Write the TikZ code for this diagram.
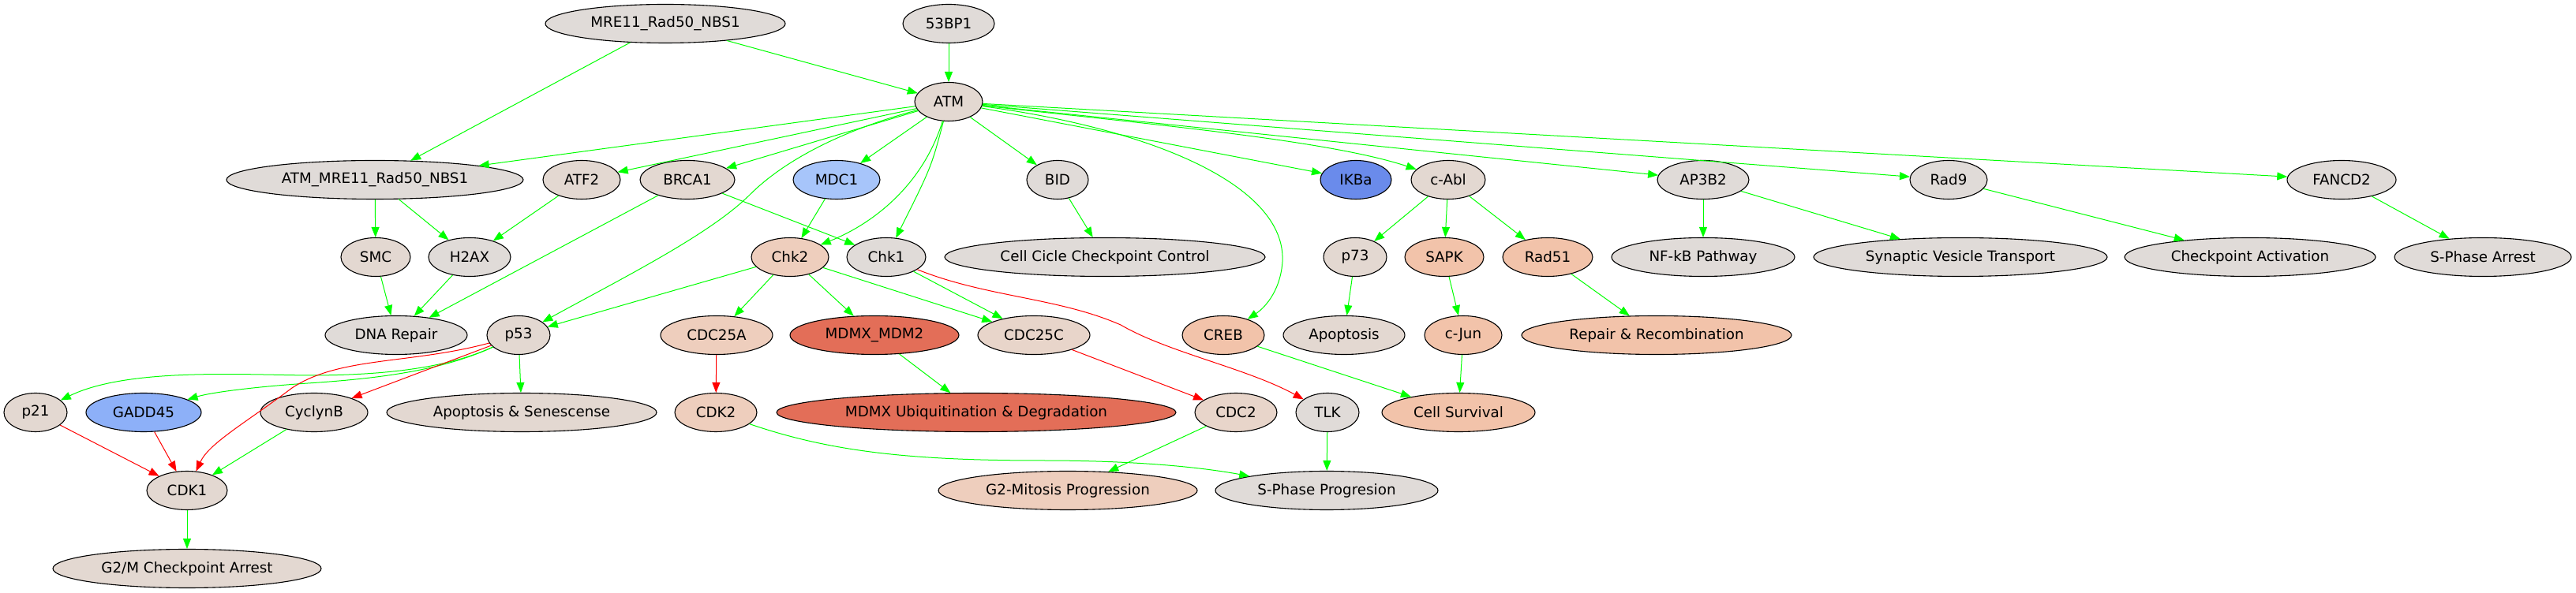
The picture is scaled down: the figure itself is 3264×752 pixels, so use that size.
\documentclass[tikz,border=0pt]{standalone}
\usepackage{fontspec}
\setmainfont{DejaVu Sans}
\usetikzlibrary{shapes.geometric,arrows.meta}
\definecolor{cg}{HTML}{E0DBD8}
\definecolor{cw}{HTML}{E3D8D1}
\definecolor{cl}{HTML}{EECEBD}
\definecolor{cm}{HTML}{E8D5CA}
\definecolor{cs}{HTML}{F2C3AA}
\definecolor{cr}{HTML}{E36E58}
\definecolor{bl}{HTML}{A7C5FA}
\definecolor{bm}{HTML}{8DB0F8}
\definecolor{bd}{HTML}{6A8BEB}
\definecolor{eg}{HTML}{00FF00}
\definecolor{er}{HTML}{FF0000}
\begin{document}
\begin{tikzpicture}[x=1pt,y=1pt,
  nd/.style={ellipse,draw=black,line width=1.1pt,inner sep=0pt,minimum height=49pt,font=\fontsize{18.3}{22}\selectfont},
  ge/.style={draw=eg,line width=1.0pt,-{Triangle[length=13pt,width=10pt]}},
  re/.style={draw=er,line width=1.0pt,-{Triangle[length=13pt,width=10pt]}}]
\useasboundingbox (0,0) rectangle (3264,752);
% row 0
\node[nd,fill=cg,minimum width=304pt] (mre) at (843,722) {MRE11\_Rad50\_NBS1};
\node[nd,fill=cg,minimum width=116pt] (bp) at (1202,722) {53BP1};
% row 1
\node[nd,fill=cw,minimum width=86pt] (atm) at (1202,623) {ATM};
% row 2
\node[nd,fill=cg,minimum width=376pt] (atmm) at (475,524) {ATM\_MRE11\_Rad50\_NBS1};
\node[nd,fill=cw,minimum width=98pt] (atf2) at (737,524) {ATF2};
\node[nd,fill=cw,minimum width=120pt] (brca1) at (871,524) {BRCA1};
\node[nd,fill=bl,minimum width=110pt] (mdc1) at (1060,524) {MDC1};
\node[nd,fill=cg,minimum width=78pt] (bid) at (1340,524) {BID};
\node[nd,fill=bd,minimum width=90pt] (ikba) at (1718,524) {IKBa};
\node[nd,fill=cw,minimum width=94pt] (cabl) at (1835,524) {c-Abl};
\node[nd,fill=cg,minimum width=116pt] (ap3b2) at (2158,524) {AP3B2};
\node[nd,fill=cg,minimum width=98pt] (rad9) at (2469,524) {Rad9};
\node[nd,fill=cg,minimum width=138pt] (fancd2) at (2967,524) {FANCD2};
% row 3
\node[nd,fill=cw,minimum width=88pt] (smc) at (476,426) {SMC};
\node[nd,fill=cg,minimum width=104pt] (h2ax) at (595,426) {H2AX};
\node[nd,fill=cl,minimum width=98pt] (chk2) at (1001,426) {Chk2};
\node[nd,fill=cg,minimum width=100pt] (chk1) at (1123,426) {Chk1};
\node[nd,fill=cg,minimum width=406pt] (ccc) at (1400,426) {Cell Cicle Checkpoint Control};
\node[nd,fill=cw,minimum width=80pt] (p73) at (1717,426) {p73};
\node[nd,fill=cs,minimum width=100pt] (sapk) at (1830,426) {SAPK};
\node[nd,fill=cs,minimum width=114pt] (rad51) at (1961,426) {Rad51};
\node[nd,fill=cg,minimum width=232pt] (nfkb) at (2158,426) {NF-kB Pathway};
\node[nd,fill=cg,minimum width=372pt] (svt) at (2484,426) {Synaptic Vesicle Transport};
\node[nd,fill=cg,minimum width=318pt] (cpa) at (2851,426) {Checkpoint Activation};
\node[nd,fill=cg,minimum width=224pt] (spa) at (3146,426) {S-Phase Arrest};
% row 4
\node[nd,fill=cg,minimum width=180pt] (dna) at (502,327) {DNA Repair};
\node[nd,fill=cw,minimum width=80pt] (p53) at (657,327) {p53};
\node[nd,fill=cl,minimum width=142pt] (cdc25a) at (908,327) {CDC25A};
\node[nd,fill=cr,minimum width=214pt] (mdmx) at (1108,327) {MDMX\_MDM2};
\node[nd,fill=cm,minimum width=142pt] (cdc25c) at (1310,327) {CDC25C};
\node[nd,fill=cs,minimum width=104pt] (creb) at (1550,327) {CREB};
\node[nd,fill=cw,minimum width=154pt] (apop) at (1703,327) {Apoptosis};
\node[nd,fill=cs,minimum width=98pt] (cjun) at (1854,327) {c-Jun};
\node[nd,fill=cs,minimum width=342pt] (rr) at (2099,327) {Repair \& Recombination};
% row 5
\node[nd,fill=cw,minimum width=80pt] (p21) at (45,229) {p21};
\node[nd,fill=bm,minimum width=146pt] (gadd) at (182,229) {GADD45};
\node[nd,fill=cw,minimum width=136pt] (cycb) at (398,229) {CyclynB};
\node[nd,fill=cw,minimum width=342pt] (aps) at (661,229) {Apoptosis \& Senescense};
\node[nd,fill=cl,minimum width=104pt] (cdk2) at (907,229) {CDK2};
\node[nd,fill=cr,minimum width=506pt] (mub) at (1237,229) {MDMX Ubiquitination \& Degradation};
\node[nd,fill=cm,minimum width=104pt] (cdc2) at (1566,229) {CDC2};
\node[nd,fill=cg,minimum width=80pt] (tlk) at (1682,229) {TLK};
\node[nd,fill=cs,minimum width=194pt] (csurv) at (1848,229) {Cell Survival};
% row 6
\node[nd,fill=cw,minimum width=102pt] (cdk1) at (237,130) {CDK1};
\node[nd,fill=cl,minimum width=328pt] (g2mp) at (1353,130) {G2-Mitosis Progression};
\node[nd,fill=cg,minimum width=282pt] (spp) at (1681,130) {S-Phase Progresion};
% row 7
\node[nd,fill=cw,minimum width=340pt] (g2m) at (237,31) {G2/M Checkpoint Arrest};
% edges
\draw[ge] (mre) -- (atmm);
\draw[ge] (mre) -- (atm);
\draw[ge] (bp) -- (atm);
\draw[ge] (atm) -- (atmm);
\draw[ge] (atm) -- (atf2);
\draw[ge] (atm) -- (brca1);
\draw[ge] (atm) -- (mdc1);
\draw[ge] (atm) .. controls (1170,520) and (1110,470) .. (chk2);
\draw[ge] (atm) .. controls (1180,540) .. (chk1);
\draw[ge] (atm) .. controls (1060,585) and (990,545) .. (950,505) .. controls (900,455) and (790,400) .. (p53);
\draw[ge] (atm) -- (bid);
\draw[ge] (atm) .. controls (1450,590) and (1630,520) .. (1625,420) .. controls (1622,380) and (1600,360) .. (creb);
\draw[ge] (atm) -- (ikba);
\draw[ge] (atm) .. controls (1450,595) and (1680,575) .. (cabl);
\draw[ge] (atm) -- (ap3b2);
\draw[ge] (atm) -- (rad9);
\draw[ge] (atm) -- (fancd2);
\draw[ge] (atmm) -- (smc);
\draw[ge] (atmm) -- (h2ax);
\draw[ge] (atf2) -- (h2ax);
\draw[ge] (brca1) -- (dna);
\draw[ge] (brca1) -- (chk1);
\draw[ge] (mdc1) -- (chk2);
\draw[ge] (bid) -- (ccc);
\draw[ge] (cabl) -- (p73);
\draw[ge] (cabl) -- (sapk);
\draw[ge] (cabl) -- (rad51);
\draw[ge] (ap3b2) -- (nfkb);
\draw[ge] (ap3b2) -- (svt);
\draw[ge] (rad9) -- (cpa);
\draw[ge] (fancd2) -- (spa);
\draw[ge] (smc) -- (dna);
\draw[ge] (h2ax) -- (dna);
\draw[ge] (chk2) -- (p53);
\draw[ge] (chk2) -- (cdc25a);
\draw[ge] (chk2) -- (mdmx);
\draw[ge] (chk2) -- (cdc25c);
\draw[ge] (chk1) -- (cdc25c);
\draw[re] (chk1) .. controls (1250,375) and (1340,375) .. (1420,340) .. controls (1480,305) and (1580,285) .. (tlk);
\draw[ge] (p73) -- (apop);
\draw[ge] (sapk) -- (cjun);
\draw[ge] (rad51) -- (rr);
\draw[ge] (p53) .. controls (560,282) and (470,276) .. (390,276) .. controls (300,277) and (160,285) .. (p21);
\draw[ge] (p53) .. controls (560,282) and (480,272) .. (390,266) .. controls (330,262) and (270,255) .. (gadd);
\draw[re] (p53) -- (cycb);
\draw[re] (p53) .. controls (520,290) and (430,300) .. (370,260) .. controls (310,215) and (265,190) .. (cdk1);
\draw[ge] (p53) -- (aps);
\draw[re] (cdc25a) -- (cdk2);
\draw[ge] (mdmx) -- (mub);
\draw[re] (cdc25c) -- (cdc2);
\draw[ge] (creb) -- (csurv);
\draw[ge] (cjun) -- (csurv);
\draw[re] (p21) -- (cdk1);
\draw[re] (gadd) -- (cdk1);
\draw[ge] (cycb) -- (cdk1);
\draw[ge] (cdk2) .. controls (1050,180) and (1150,168) .. (1320,168) .. controls (1450,168) and (1530,158) .. (spp);
\draw[ge] (cdc2) -- (g2mp);
\draw[ge] (tlk) -- (spp);
\draw[ge] (cdk1) -- (g2m);
\end{tikzpicture}
\end{document}
